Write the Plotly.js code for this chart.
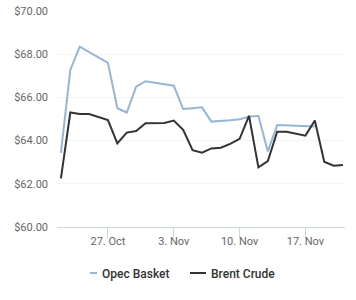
<!DOCTYPE html>
<html>
<head>
<meta charset="utf-8">
<script src="https://cdn.plot.ly/plotly-3.0.1.min.js"></script>
<style>
html,body{margin:0;padding:0;background:#fff;}
#chart{width:356px;height:300px;}
</style>
</head>
<body>
<div id="chart"></div>
<script>
const opecDates = ['2019-10-22','2019-10-23','2019-10-24','2019-10-27','2019-10-28','2019-10-29','2019-10-30','2019-10-31','2019-11-03','2019-11-04','2019-11-05','2019-11-06','2019-11-07','2019-11-08','2019-11-09','2019-11-10','2019-11-11','2019-11-12','2019-11-13','2019-11-14','2019-11-17','2019-11-18'];
const opecValues = [63.43,67.27,68.35,67.6,65.5,65.3,66.5,66.75,66.54,65.46,65.5,65.54,64.88,64.9,64.94,64.99,65.1,65.15,63.5,64.72,64.68,64.65];
const brentDates = ['2019-10-22','2019-10-23','2019-10-24','2019-10-25','2019-10-27','2019-10-28','2019-10-29','2019-10-30','2019-10-31','2019-11-01','2019-11-02','2019-11-03','2019-11-04','2019-11-05','2019-11-06','2019-11-07','2019-11-08','2019-11-09','2019-11-10','2019-11-11','2019-11-12','2019-11-13','2019-11-14','2019-11-15','2019-11-16','2019-11-17','2019-11-18','2019-11-19','2019-11-20','2019-11-21'];
const brentValues = [62.25,65.3,65.23,65.23,64.95,63.87,64.37,64.44,64.8,64.8,64.82,64.93,64.5,63.56,63.44,63.64,63.67,63.85,64.08,65.15,62.76,63.05,64.41,64.41,64.32,64.23,64.93,63.02,62.84,62.87];
const xTickVals = ['2019-10-27','2019-11-03','2019-11-10','2019-11-17'];
const xTickText = ['27. Oct','3. Nov','10. Nov','17. Nov'];
const yTickVals = [60,62,64,66,68,70];
const yTickText = ['$60.00','$62.00','$64.00','$66.00','$68.00','$70.00'];

const traces = [
  {x: opecDates, y: opecValues, name: 'Opec Basket', type: 'scatter', mode: 'lines',
   line: {color: '#95b6d5', width: 2}},
  {x: brentDates, y: brentValues, name: 'Brent Crude', type: 'scatter', mode: 'lines',
   line: {color: '#333333', width: 2}}
];
const layout = {
  width: 356, height: 300,
  margin: {l: 57, r: 11, t: 11, b: 73},
  paper_bgcolor: '#fff', plot_bgcolor: '#fff',
  font: {family: 'Roboto, sans-serif', size: 11, color: '#666'},
  showlegend: true,
  legend: {orientation: 'h', x: 0.5, xanchor: 'center', y: -0.213, yanchor: 'middle',
    font: {family: 'Roboto, sans-serif', size: 12, color: '#333', weight: 500},
    itemwidth: 30, tracegroupgap: 0},
  xaxis: {type: 'date', range: ['2019-10-21 14:00', '2019-11-21 05:00'],
    tickmode: 'array', tickvals: xTickVals, ticktext: xTickText,
    showgrid: false, zeroline: false, showline: true, linecolor: '#ccd6eb', linewidth: 1,
    ticks: 'outside', ticklen: 10, tickcolor: '#ccd6eb', tickwidth: 1,
    ticklabelstandoff: -6, tickfont: {size: 11, color: '#666'}},
  yaxis: {range: [60, 70], tickmode: 'array', tickvals: yTickVals, ticktext: yTickText,
    showgrid: true, gridcolor: '#f3f3f3', zeroline: false, showline: false,
    ticks: '', ticklabelstandoff: 8, tickfont: {size: 11, color: '#666'}}
};
Plotly.newPlot('chart', traces, layout, {displayModeBar: false, staticPlot: true}).then(function (gd) {
  // Highcharts-style short legend symbols placed as in the reference
  const legend = gd.querySelector('.legend');
  if (!legend) return;
  const m = /translate\(\s*([-\d.]+)[ ,]+([-\d.]+)\s*\)/.exec(legend.getAttribute('transform') || '');
  const lx = m ? parseFloat(m[1]) : 0;
  const starts = [81, 190];
  legend.querySelectorAll('g.traces').forEach(function (g, i) {
    const t = /translate\(\s*([-\d.]+)[ ,]+([-\d.]+)\s*\)/.exec(g.getAttribute('transform') || '');
    const ty = t ? parseFloat(t[2]) : 0;
    g.setAttribute('transform', 'translate(' + (starts[i] - lx) + ',' + ty + ')');
    g.querySelectorAll('path.js-line').forEach(function (p) { p.setAttribute('d', 'M0,0h16'); });
    const txt = g.querySelector('text.legendtext');
    if (txt) txt.setAttribute('x', 21);
  });
});
</script>
</body>
</html>
